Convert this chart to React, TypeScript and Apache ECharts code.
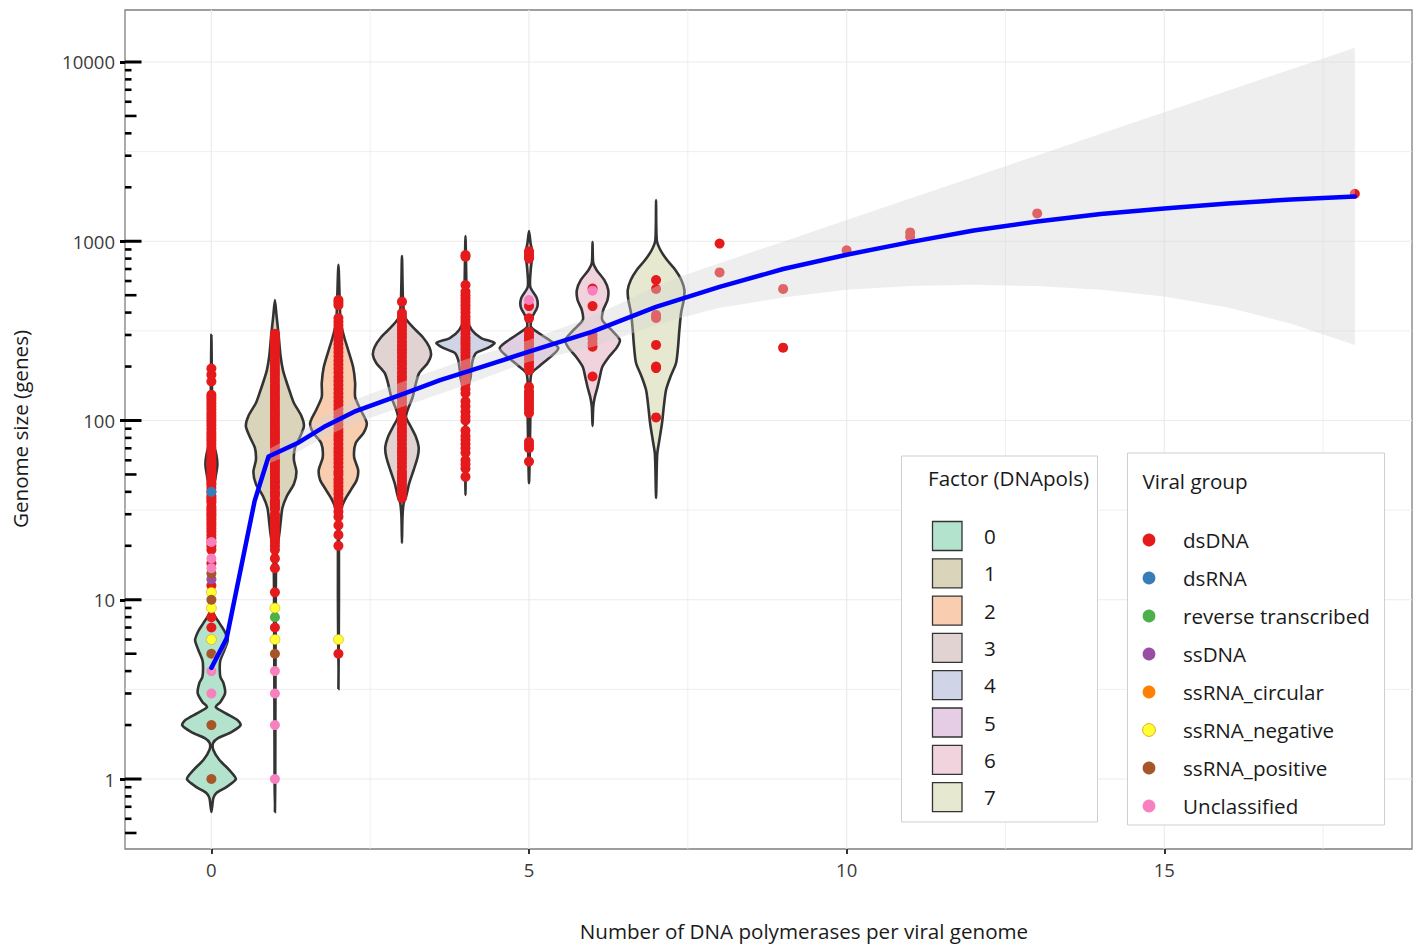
import React, { useEffect, useRef } from "react";
import * as echarts from "echarts";

// ---------- axes ----------
const X_MIN = -1.36;
const X_MAX = 18.9;
const Y_MIN = 0.407;
const Y_MAX = 19500;
const xTickValues = [0, 5, 10, 15];
const yTickValues = [1, 10, 100, 1000, 10000];
const xGridMajor = [0, 5, 10, 15];
const xGridMinor = [2.5, 7.5, 12.5, 17.5];
const yGridMajor = [1, 10, 100, 1000, 10000];
const yGridMinor = [3.162, 31.62, 316.2, 3162];
const logTicksLong = [1, 10, 100, 1000, 10000];
const logTicksMid = [0.5, 5, 50, 500, 5000];
const logTicksShort = [0.6, 0.7, 0.8, 0.9, 2, 3, 4, 6, 7, 8, 9, 20, 30, 40, 60, 70, 80, 90, 200, 300, 400, 600, 700, 800, 900, 2000, 3000, 4000, 6000, 7000, 8000, 9000];

const xTitle = "Number of DNA polymerases per viral genome";
const yTitle = "Genome size (genes)";

// ---------- violins (factor = number of DNA pols) ----------
const factorLevels = ["0", "1", "2", "3", "4", "5", "6", "7"];
const factorX = [0, 1, 2, 3, 4, 5, 6, 7];
const factorColors = ["#b3e2cd", "#d9d4ba", "#f8cdb0", "#e0d3d1", "#cfd5e7", "#e5cee5", "#f1d3de", "#e6e9cf"];
// profiles: [log10(genes), half width in x units], top to bottom
const violin0 = [[2.477, 0], [2.226, 0.008], [1.891, 0.024], [1.808, 0.079], [1.752, 0.094], [1.679, 0.063], [1.584, 0.016], [1.333, 0.008], [0.999, 0.016], [0.926, 0.031], [0.87, 0.126], [0.826, 0.205], [0.775, 0.257], [0.72, 0.205], [0.664, 0.142], [0.625, 0.131], [0.569, 0.142], [0.536, 0.189], [0.48, 0.216], [0.43, 0.142], [0.402, 0.068], [0.368, 0.22], [0.329, 0.41], [0.301, 0.46], [0.262, 0.315], [0.229, 0.11], [0.201, 0.027], [0.162, 0.031], [0.106, 0.126], [0.05, 0.283], [0, 0.385], [-0.045, 0.236], [-0.078, 0.079], [-0.106, 0.031], [-0.184, 0]];
const violin1 = [[2.672, 0], [2.589, 0.024], [2.477, 0.058], [2.365, 0.087], [2.282, 0.126], [2.226, 0.173], [2.159, 0.236], [2.098, 0.299], [2.025, 0.417], [1.969, 0.457], [1.908, 0.394], [1.847, 0.315], [1.78, 0.299], [1.713, 0.339], [1.646, 0.299], [1.579, 0.189], [1.512, 0.118], [1.445, 0.094], [1.372, 0.071], [1.294, 0.039], [1.211, 0.02], [0.999, 0.013], [0.441, 0.008], [-0.006, 0.005], [-0.184, 0]];
const violin2 = [[2.868, 0], [2.672, 0.02], [2.544, 0.036], [2.466, 0.09], [2.393, 0.153], [2.298, 0.231], [2.209, 0.263], [2.131, 0.263], [2.059, 0.351], [1.986, 0.446], [1.93, 0.394], [1.874, 0.272], [1.796, 0.247], [1.724, 0.31], [1.668, 0.288], [1.612, 0.194], [1.556, 0.099], [1.501, 0.036], [1.428, 0.011], [0.999, 0.008], [0.502, 0]];
const violin3 = [[2.918, 0], [2.672, 0.016], [2.577, 0.047], [2.522, 0.168], [2.466, 0.326], [2.41, 0.43], [2.365, 0.457], [2.321, 0.405], [2.265, 0.272], [2.209, 0.22], [2.131, 0.168], [2.059, 0.09], [2.02, 0.063], [1.964, 0.142], [1.908, 0.22], [1.852, 0.263], [1.796, 0.247], [1.724, 0.184], [1.651, 0.115], [1.573, 0.063], [1.54, 0.027], [1.462, 0.008], [1.317, 0]];
const violin4 = [[3.029, 0], [2.728, 0.016], [2.561, 0.036], [2.505, 0.099], [2.46, 0.247], [2.433, 0.457], [2.405, 0.351], [2.377, 0.168], [2.338, 0.115], [2.282, 0.09], [2.237, 0.079], [2.187, 0.036], [2.115, 0.011], [1.584, 0]];
const violin5 = [[3.057, 0], [2.99, 0.024], [2.934, 0.052], [2.84, 0.027], [2.745, 0.02], [2.684, 0.121], [2.633, 0.131], [2.577, 0.052], [2.522, 0.031], [2.477, 0.2], [2.433, 0.383], [2.405, 0.461], [2.377, 0.409], [2.338, 0.279], [2.298, 0.146], [2.265, 0.043], [2.209, 0.02], [2.115, 0.024], [1.908, 0.016], [1.651, 0]];
const violin6 = [[2.996, 0], [2.879, 0.011], [2.84, 0.063], [2.784, 0.184], [2.728, 0.247], [2.672, 0.236], [2.616, 0.168], [2.561, 0.153], [2.505, 0.299], [2.449, 0.43], [2.405, 0.378], [2.354, 0.257], [2.298, 0.153], [2.243, 0.115], [2.187, 0.079], [2.131, 0.036], [2.075, 0.011], [1.969, 0]];
const violin7 = [[3.23, 0], [3.007, 0.011], [2.951, 0.068], [2.895, 0.173], [2.84, 0.304], [2.784, 0.398], [2.728, 0.446], [2.672, 0.436], [2.6, 0.394], [2.505, 0.367], [2.41, 0.346], [2.321, 0.315], [2.243, 0.225], [2.17, 0.157], [2.075, 0.121], [1.986, 0.094], [1.891, 0.052], [1.819, 0.02], [1.741, 0.011], [1.568, 0]];
const violinProfiles = [violin0, violin1, violin2, violin3, violin4, violin5, violin6, violin7];

// ---------- points (viral groups) ----------
const groups = ["dsDNA", "dsRNA", "reverse transcribed", "ssDNA", "ssRNA_circular", "ssRNA_negative", "ssRNA_positive", "Unclassified"];
const groupColors = ["#e41a1c", "#377eb8", "#4daf4a", "#984ea3", "#ff7f00", "#ffff33", "#a65628", "#f781bf"];

const dsDNA_0 = [7, 8, 12, 16, 19, 20, 21, 22, 23, 24, 25, 26, 27, 28, 29, 30, 31, 32, 33, 35, 36, 37, 38, 40, 42, 44, 45, 47, 49, 51, 53, 55, 57, 59, 61, 63, 65, 68, 71, 74, 77, 80, 83, 86, 90, 94, 98, 102, 106, 110, 115, 120, 125, 130, 135, 139, 165, 180, 195];
const dsDNA_1 = [7, 11, 15, 17, 19, 20, 21, 22, 23, 24, 25, 26, 27, 28, 29, 30, 32, 33, 34, 35, 36, 38, 39, 40, 42, 43, 45, 46, 48, 50, 52, 54, 56, 58, 60, 62, 64, 66, 68, 70, 73, 76, 79, 82, 85, 88, 91, 95, 99, 103, 107, 111, 115, 120, 125, 130, 135, 140, 146, 152, 158, 165, 172, 180, 188, 196, 205, 215, 225, 235, 245, 255, 265, 275, 285, 295, 305];
const dsDNA_2 = [5, 20, 23, 26, 29, 31, 33, 35, 37, 39, 41, 43, 45, 47, 50, 52, 55, 58, 61, 64, 67, 70, 74, 78, 82, 86, 90, 95, 100, 105, 110, 116, 122, 128, 135, 142, 150, 158, 166, 175, 185, 195, 205, 216, 228, 240, 253, 266, 280, 295, 310, 325, 340, 355, 373, 440, 455, 470];
const dsDNA_3 = [37, 38, 40, 42, 44, 46, 48, 50, 52, 55, 58, 61, 64, 67, 70, 74, 78, 82, 86, 90, 95, 100, 104, 115, 120, 126, 132, 138, 145, 152, 160, 168, 176, 185, 195, 205, 215, 226, 238, 250, 262, 275, 290, 305, 320, 335, 350, 365, 380, 398, 460];
const dsDNA_4 = [48.5, 54, 57, 60, 66, 70, 74, 78, 82, 88, 100, 105, 112, 120, 128, 142, 150, 160, 170, 180, 190, 200, 210, 220, 230, 240, 250, 260, 270, 280, 290, 305, 320, 335, 350, 365, 380, 400, 420, 440, 460, 480, 500, 523, 570, 820, 838];
const dsDNA_5 = [59, 70, 73, 76, 110, 115, 120, 125, 130, 135, 140, 145, 154, 191, 200, 210, 220, 230, 240, 250, 260, 270, 280, 290, 300, 313, 372, 435, 800, 820, 850, 880];
const dsDNA_6 = [176, 258, 270, 285, 300, 435, 545];
const dsDNA_7 = [104, 196, 200, 264, 373, 388, 542, 608];
const dsDNA_beyond = [[8, 970], [8, 670], [9, 542], [9, 255], [10, 891], [11, 1060], [11, 1120], [13, 1430], [18, 1840]];

const dsRNAPoints = [[0, 40]];
const reverseTranscribedPoints = [[1, 8]];
const ssDNAPoints = [[0, 13]];
const ssRNACircularPoints: number[][] = [];
const ssRNANegativePoints = [[0, 6], [0, 9], [0, 11], [1, 6], [1, 9], [2, 6]];
const ssRNAPositivePoints = [[0, 1], [0, 2], [0, 5], [0, 10], [0, 14], [1, 5]];
const unclassifiedPoints = [[0, 3], [0, 4], [0, 15], [0, 17], [0, 21], [1, 1], [1, 2], [1, 3], [1, 4], [5, 470], [6, 530]];

// ---------- smooth fit + confidence band ----------
const fitX = [0, 0.24, 0.68, 0.9, 1.35, 1.8, 2.25, 3, 3.6, 4, 5, 6, 7, 8, 9, 10, 11, 12, 13, 14, 15, 16, 17, 18];
const fitY = [4.17, 6.1, 35.5, 63, 74.6, 93.3, 112, 140, 168, 186, 242, 313, 430, 556, 700, 841, 989, 1148, 1288, 1419, 1521, 1626, 1710, 1774];
const bandX = [0, 0.24, 0.68, 0.9, 1.35, 1.8, 2.25, 3, 4, 5, 6, 7, 7.38, 8, 9, 10, 11, 12, 13, 14, 15, 16, 17, 18];
const bandUpper = [4.57, 6.68, 38.9, 69.2, 83.8, 107, 130, 164, 219, 281, 380, 560, 635, 755, 995, 1312, 1734, 2286, 3013, 3972, 5248, 6918, 9120, 12023];
const bandLower = [3.8, 5.56, 32.4, 57.5, 66.5, 81.3, 96.6, 119, 158, 213, 257, 341, 373, 425, 485, 536, 562, 571, 562, 537, 492, 427, 347, 264];

const FONT = "'Open Sans', 'Noto Sans', sans-serif";
const TXT = 20.6;

export default function App() {
  const ref = useRef<HTMLDivElement>(null);
  useEffect(() => {
    if (!ref.current) return;
    const chart = echarts.init(ref.current, null, { renderer: "svg" });

    const dsDNAPoints = [
      ...dsDNA_0.map((v) => [0, v]),
      ...dsDNA_1.map((v) => [1, v]),
      ...dsDNA_2.map((v) => [2, v]),
      ...dsDNA_3.map((v) => [3, v]),
      ...dsDNA_4.map((v) => [4, v]),
      ...dsDNA_5.map((v) => [5, v]),
      ...dsDNA_6.map((v) => [6, v]),
      ...dsDNA_7.map((v) => [7, v]),
      ...dsDNA_beyond,
    ];
    const groupPoints = [dsDNAPoints, dsRNAPoints, reverseTranscribedPoints, ssDNAPoints, ssRNACircularPoints, ssRNANegativePoints, ssRNAPositivePoints, unclassifiedPoints];

    const hGrid = [...yGridMajor.map((v) => [X_MIN, v, 1.2]), ...yGridMinor.map((v) => [X_MIN, v, 0.8])];
    const vGrid = [...xGridMajor.map((v) => [v, 1, 1.2]), ...xGridMinor.map((v) => [v, 1, 0.8])];
    const logTickData = [
      ...logTicksLong.map((v) => [X_MIN, v, 16.5, 3]),
      ...logTicksMid.map((v) => [X_MIN, v, 11.5, 2.6]),
      ...logTicksShort.map((v) => [X_MIN, v, 6.5, 2.6]),
    ];

    const series: any[] = [
      {
        type: "custom",
        name: "hgrid",
        z: 1,
        silent: true,
        data: hGrid,
        renderItem: (params: any, api: any) => {
          const cs = params.coordSys;
          const p = api.coord([X_MIN, api.value(1)]);
          return { type: "line", shape: { x1: cs.x, y1: p[1], x2: cs.x + cs.width, y2: p[1] }, style: { stroke: "#ebebeb", lineWidth: api.value(2) } };
        },
      },
      {
        type: "custom",
        name: "vgrid",
        z: 1,
        silent: true,
        data: vGrid,
        renderItem: (params: any, api: any) => {
          const cs = params.coordSys;
          const p = api.coord([api.value(0), 1]);
          return { type: "line", shape: { x1: p[0], y1: cs.y, x2: p[0], y2: cs.y + cs.height }, style: { stroke: "#ebebeb", lineWidth: api.value(2) } };
        },
      },
      {
        type: "custom",
        name: "violins",
        z: 2,
        silent: true,
        data: factorX.map((x) => [x, 1]),
        renderItem: (params: any, api: any) => {
          const i = params.dataIndex;
          const prof = violinProfiles[i];
          const cx = factorX[i];
          const left = prof.map(([l, hw]) => api.coord([cx - hw, Math.pow(10, l)]));
          const right = prof.slice(1, -1).reverse().map(([l, hw]) => api.coord([cx + hw, Math.pow(10, l)]));
          return {
            type: "polygon",
            shape: { points: left.concat(right), smooth: 0.25 },
            style: { fill: factorColors[i], stroke: "#333333", lineWidth: 2.6 },
          };
        },
      },
      ...groups.map((g, gi) => ({
        type: "scatter",
        name: g,
        z: 3,
        symbol: "circle",
        symbolSize: 10,
        data: groupPoints[gi],
        itemStyle: {
          color: groupColors[gi],
          opacity: 1,
          borderColor: gi === 5 ? "rgba(210,160,0,0.7)" : undefined,
          borderWidth: gi === 5 ? 0.8 : 0,
        },
        emphasis: { disabled: true },
      })),
      {
        type: "custom",
        name: "band",
        z: 4,
        silent: true,
        data: [[0, 1]],
        renderItem: (params: any, api: any) => {
          const up = bandX.map((x, k) => api.coord([x, bandUpper[k]]));
          const lo = bandX.map((x, k) => api.coord([x, bandLower[k]])).reverse();
          return { type: "polygon", shape: { points: up.concat(lo) }, style: { fill: "rgba(212,212,212,0.4)" } };
        },
      },
      {
        type: "line",
        name: "fit",
        z: 5,
        silent: true,
        showSymbol: false,
        symbol: "none",
        smooth: false,
        data: fitX.map((x, k) => [x, fitY[k]]),
        lineStyle: { color: "#0000ff", width: 4.5, join: "round", cap: "round" },
      },
      {
        type: "custom",
        name: "logticks",
        z: 6,
        silent: true,
        data: logTickData,
        renderItem: (params: any, api: any) => {
          const cs = params.coordSys;
          const p = api.coord([X_MIN, api.value(1)]);
          return { type: "line", shape: { x1: cs.x, y1: p[1], x2: cs.x + api.value(2), y2: p[1] }, style: { stroke: "#000000", lineWidth: api.value(3) } };
        },
      },
    ];

    const legendFactorTop = 536;
    const legendStep = 37.3;
    const groupTop = 540;
    const groupStep = 38;
    const graphics: any[] = [
      {
        type: "text",
        x: 804,
        y: 931,
        style: { text: xTitle, font: `${TXT}px ${FONT}`, fill: "#1a1a1a", textAlign: "center", textVerticalAlign: "middle" },
      },
      {
        type: "text",
        x: 20,
        y: 429,
        rotation: Math.PI / 2,
        style: { text: yTitle, font: `${TXT}px ${FONT}`, fill: "#1a1a1a", textAlign: "center", textVerticalAlign: "middle" },
      },
      { type: "rect", z: 100, shape: { x: 901.5, y: 456, width: 196, height: 366 }, style: { fill: "#ffffff", stroke: "#cfcfcf", lineWidth: 1 } },
      { type: "text", z: 101, x: 928, y: 478, style: { text: "Factor (DNApols)", font: `${TXT}px ${FONT}`, fill: "#1a1a1a", textVerticalAlign: "middle" } },
      ...factorLevels.flatMap((f, i) => [
        { type: "rect", z: 101, shape: { x: 932.5, y: legendFactorTop + i * legendStep - 14.5, width: 29.5, height: 29 }, style: { fill: factorColors[i], stroke: "#333333", lineWidth: 1.3 } },
        { type: "text", z: 101, x: 984, y: legendFactorTop + i * legendStep, style: { text: f, font: `${TXT}px ${FONT}`, fill: "#1a1a1a", textVerticalAlign: "middle" } },
      ]),
      { type: "rect", z: 100, shape: { x: 1127.5, y: 453, width: 257, height: 372 }, style: { fill: "#ffffff", stroke: "#cfcfcf", lineWidth: 1 } },
      { type: "text", z: 101, x: 1142.5, y: 481, style: { text: "Viral group", font: `${TXT}px ${FONT}`, fill: "#1a1a1a", textVerticalAlign: "middle" } },
      ...groups.flatMap((g, i) => [
        { type: "circle", z: 101, shape: { cx: 1149, cy: groupTop + i * groupStep, r: 6.4 }, style: { fill: groupColors[i], stroke: i === 5 ? "rgba(220,150,0,0.8)" : undefined, lineWidth: i === 5 ? 1 : 0 } },
        { type: "text", z: 101, x: 1183, y: groupTop + i * groupStep, style: { text: g, font: `${TXT}px ${FONT}`, fill: "#1a1a1a", textVerticalAlign: "middle" } },
      ]),
    ];

    chart.setOption({
      animation: false,
      backgroundColor: "#ffffff",
      textStyle: { fontFamily: FONT },
      grid: { left: 125, top: 10, width: 1287, height: 839, containLabel: false, show: true, borderColor: "#7f7f7f", borderWidth: 1.3, backgroundColor: "transparent" },
      xAxis: {
        type: "value",
        min: X_MIN,
        max: X_MAX,
        splitLine: { show: false },
        axisLine: { show: false, onZero: false },
        axisTick: { show: true, customValues: xTickValues, length: 5, lineStyle: { color: "#333333", width: 2 } },
        axisLabel: { show: true, customValues: xTickValues, color: "#3a3a3a", fontSize: 18.5, margin: 11, fontFamily: FONT },
        minorTick: { show: false },
      },
      yAxis: {
        type: "log",
        logBase: 10,
        min: Y_MIN,
        max: Y_MAX,
        position: "left",
        splitLine: { show: false },
        axisLine: { show: false, onZero: false },
        axisTick: { show: true, customValues: yTickValues, length: 5, lineStyle: { color: "#000000", width: 3 } },
        axisLabel: { show: true, customValues: yTickValues, color: "#3a3a3a", fontSize: 18.5, margin: 10, fontFamily: FONT, formatter: (v: number) => String(Math.round(v)) },
        minorTick: { show: false },
      },
      series,
      graphic: graphics,
    });
    return () => chart.dispose();
  }, []);
  return <div ref={ref} style={{ position: "absolute", left: 0, top: 0, width: 1419, height: 945 }} />;
}
